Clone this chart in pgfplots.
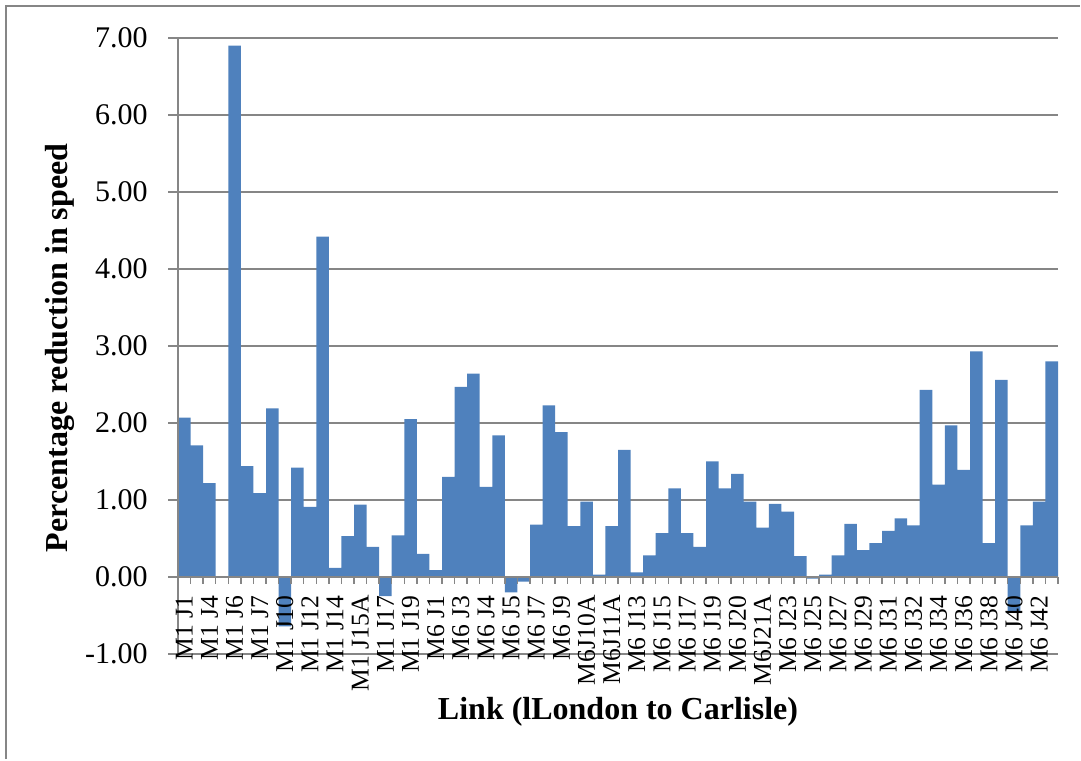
\documentclass[border=0pt]{standalone}
\usepackage{fontspec}
\setmainfont{Liberation Serif}
\usepackage{pgfplots}
\pgfplotsset{compat=1.18}
\definecolor{barblue}{HTML}{4F81BD}
\definecolor{gridgray}{HTML}{868686}

% tick labels above the bars, grid below them
\pgfplotsset{
  layers/labelsontop/.define layer set={axis background,axis grid,main,axis ticks,axis lines,axis tick labels,axis descriptions,axis foreground}{
    grid style={/pgfplots/on layer=axis grid},
    tick style={/pgfplots/on layer=axis ticks},
    axis line style={/pgfplots/on layer=axis lines},
    label style={/pgfplots/on layer=axis descriptions},
    ticklabel style={/pgfplots/on layer=axis tick labels},
    axis background@ style={/pgfplots/on layer=axis background},
  },
}

\begin{document}
\begin{tikzpicture}
\path[draw=none] (0,0) rectangle (540.5pt,380pt);
% chart area border (only top and left visible)
\draw[gridgray, line width=0.75pt] (3pt,0.4pt) -- (3pt,377pt) -- (540.1pt,377pt);
\begin{axis}[
  set layers=labelsontop,
  at={(89pt,53pt)}, anchor=south west,
  width=440pt, height=308pt, scale only axis,
  xmin=-0.5, xmax=69.5, ymin=-1, ymax=7,
  axis y line*=left, axis x line*=middle,
  every inner x axis line/.append style={-},
  every outer y axis line/.append style={-},
  axis line style={gridgray, line width=0.7pt},
  ymajorgrids, grid style={gridgray, line width=0.7pt},
  tick align=outside,
  tick style={gridgray, line width=0.7pt},
  major tick length=5pt, minor tick length=3.5pt,
  ytick={-1,0,1,2,3,4,5,6,7},
  yticklabels={-1.00,0.00,1.00,2.00,3.00,4.00,5.00,6.00,7.00},
  yticklabel style={font=\fontsize{15}{18}\selectfont, anchor=east, inner sep=0pt, xshift=-10pt},
  xtick={0,2,...,68},
  major x tick style={draw=none},
  minor xtick={-0.5,0.5,...,69.5},
  xticklabels={{M1 J1},{M1 J4},{M1 J6},{M1 J7},{M1 J10},{M1 J12},{M1 J14},{M1 J15A},{M1 J17},{M1 J19},
    {M6 J1},{M6 J3},{M6 J4},{M6 J5},{M6 J7},{M6 J9},{M6J10A},{M6J11A},{M6 J13},{M6 J15},
    {M6 J17},{M6 J19},{M6 J20},{M6J21A},{M6 J23},{M6 J25},{M6 J27},{M6 J29},{M6 J31},{M6 J32},
    {M6 J34},{M6 J36},{M6 J38},{M6 J40},{M6 J42}},
  xticklabel style={font=\fontsize{12.8}{15}\selectfont, yshift=-4pt, rotate=90, anchor=east, inner sep=0pt},
  xlabel={\textbf{Link (lLondon to Carlisle)}},
  ylabel={\textbf{Percentage reduction in speed}},
  xlabel style={font=\fontsize{16}{19}\selectfont, at={(axis description cs:0.5,0)}, anchor=center, yshift=-29pt},
  ylabel style={font=\fontsize{16}{19}\selectfont, at={(axis description cs:-0.134,0.497)}, anchor=center},
  ybar, bar width=1,
]
\addplot[fill=barblue, draw=none] coordinates {
  (0,2.07) (1,1.71) (2,1.22) (3,0.00) (4,6.90) (5,1.44) (6,1.09) (7,2.19) (8,-0.64) (9,1.42)
  (10,0.91) (11,4.42) (12,0.12) (13,0.53) (14,0.94) (15,0.39) (16,-0.25) (17,0.54) (18,2.05) (19,0.30)
  (20,0.09) (21,1.30) (22,2.47) (23,2.64) (24,1.17) (25,1.84) (26,-0.20) (27,-0.06) (28,0.68) (29,2.23)
  (30,1.88) (31,0.66) (32,0.98) (33,0.03) (34,0.66) (35,1.65) (36,0.06) (37,0.28) (38,0.57) (39,1.15)
  (40,0.57) (41,0.39) (42,1.50) (43,1.15) (44,1.34) (45,0.98) (46,0.64) (47,0.95) (48,0.85) (49,0.27)
  (50,-0.02) (51,0.03) (52,0.28) (53,0.69) (54,0.35) (55,0.44) (56,0.60) (57,0.76) (58,0.67) (59,2.43)
  (60,1.20) (61,1.97) (62,1.39) (63,2.93) (64,0.44) (65,2.56) (66,-0.45) (67,0.67) (68,0.98) (69,2.80)
};
\end{axis}
\end{tikzpicture}
\end{document}
